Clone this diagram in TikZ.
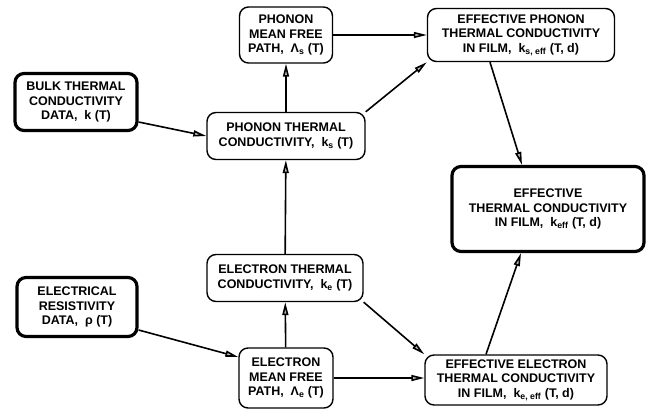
\documentclass[tikz,border=0pt]{standalone}
\usepackage{fontspec}
\setmainfont{Liberation Sans}
\usetikzlibrary{arrows.meta,positioning}

\begin{document}
\begin{tikzpicture}[x=1pt, y=-1pt,
	box/.style={draw, rounded corners=9pt, line width=1.4pt, align=center, inner sep=1pt,
		font=\fontsize{12.5}{14.5}\selectfont\bfseries},
	databox/.style={box, line width=3.2pt},
	arr/.style={-{Triangle[length=13pt, width=6pt, fill=gray!50]}, line width=1.6pt}
]
	\useasboundingbox (0,0) rectangle (646,410);

	% Input data
	\node[databox, minimum width=122pt, minimum height=57pt] (bulk) at (76,102)
		{BULK THERMAL\\ CONDUCTIVITY\\ DATA,\ \ k (T)};
	\node[databox, minimum width=120pt, minimum height=59pt] (rho) at (77,307)
		{ELECTRICAL\\ RESISTIVITY\\ DATA,\ \ ρ (T)};

	% Phonon branch
	\node[box, minimum width=93pt, minimum height=56pt] (pmfp) at (286,35)
		{PHONON\\ MEAN FREE\\ PATH,\ \ Λ\textsubscript{s} (T)};
	\node[box, minimum width=158pt, minimum height=47pt] (pcond) at (286,136)
		{PHONON THERMAL\\ CONDUCTIVITY,\ \ k\textsubscript{s} (T)};
	\node[box, minimum width=187pt, minimum height=53pt] (peff) at (521,35)
		{EFFECTIVE PHONON\\ THERMAL CONDUCTIVITY\\ IN FILM,\ \ k\textsubscript{s, eff} (T, d)};

	% Electron branch
	\node[box, minimum width=156pt, minimum height=47pt] (econd) at (285,278)
		{ELECTRON THERMAL\\ CONDUCTIVITY,\ \ k\textsubscript{e} (T)};
	\node[box, minimum width=94pt, minimum height=60pt] (emfp) at (286,378)
		{ELECTRON\\ MEAN FREE\\ PATH,\ \ Λ\textsubscript{e} (T)};
	\node[box, minimum width=182pt, minimum height=50pt] (eeff) at (516,380)
		{EFFECTIVE ELECTRON\\ THERMAL CONDUCTIVITY\\ IN FILM,\ \ k\textsubscript{e, eff} (T, d)};

	% Result
	\node[databox, minimum width=192pt, minimum height=85pt] (keff) at (548,209)
		{EFFECTIVE\\ THERMAL CONDUCTIVITY\\ IN FILM,\ \ k\textsubscript{eff} (T, d)};

	\draw[arr] ([yshift=-20pt]bulk.east) -- (pcond.west);
	\draw[arr] (pcond) -- (pmfp);
	\draw[arr] (pmfp) -- (peff);
	\draw[arr] (pcond.north east) -- (peff.south west);
	\draw[arr] ([xshift=-31pt]peff.south) -- ([xshift=-26pt]keff.north);

	\draw[arr] ([yshift=-23pt]rho.east) -- ([yshift=21pt]emfp.west);
	\draw[arr] (emfp) -- (econd);
	\draw[arr] (econd) -- (pcond);
	\draw[arr] (emfp.east) -- (emfp.east -| eeff.west);
	\draw[arr] (econd.south east) -- (eeff.north west);
	\draw[arr] ([xshift=-30pt]eeff.north) -- ([xshift=-27pt]keff.south);
\end{tikzpicture}
\end{document}
